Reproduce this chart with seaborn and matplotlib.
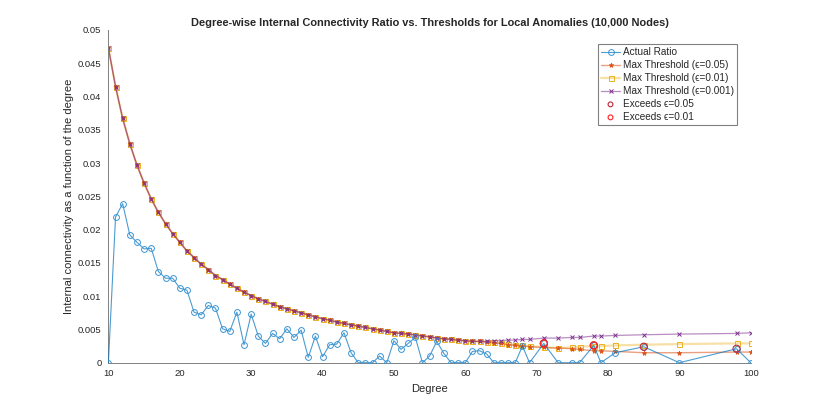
import matplotlib
matplotlib.use('Agg')
import matplotlib.pyplot as plt
import seaborn as sns

# Degrees present in the data (gaps above 69)
degree = list(range(10, 70)) + [71, 73, 75, 76, 78, 79, 81, 85, 90, 98, 100]

# Actual internal connectivity ratio per degree
actual_ratio = [0, 0.0219, 0.0239, 0.0192, 0.0181, 0.0171, 0.0172, 0.0137, 0.0127, 0.0127,
                0.0112, 0.0109, 0.0076, 0.0072, 0.0086, 0.0082, 0.0051, 0.0047, 0.0076, 0.0027,
                0.0073, 0.0040, 0.0029, 0.0044, 0.0036, 0.0051, 0.0038, 0.0049, 0.0008, 0.0040,
                0.0009, 0.0027, 0.0028, 0.0045, 0.0015, 0, 0, 0, 0.0010, 0,
                0.0033, 0.0020, 0.0029, 0.0038, 0, 0.0010, 0.0032, 0.0014, 0, 0,
                0, 0.0017, 0.0018, 0.0013, 0, 0, 0, 0, 0.0025, 0,
                0.0029, 0, 0, 0, 0.0026, 0, 0.0015, 0.0024, 0, 0.0021, 0]

# Thresholds coincide for degrees 10..62
thr_shared = [0.0473, 0.0415, 0.0367, 0.0329, 0.0297, 0.0270, 0.0246, 0.0226, 0.0209, 0.0194,
              0.0181, 0.0168, 0.0158, 0.0148, 0.0140, 0.0131, 0.0125, 0.0118, 0.0112, 0.0106,
              0.0101, 0.0096, 0.0092, 0.0088, 0.0084, 0.0081, 0.0078, 0.0075, 0.0072, 0.0069,
              0.0066, 0.0064, 0.0061, 0.0059, 0.0057, 0.0055, 0.0053, 0.0051, 0.0049, 0.0047,
              0.0045, 0.0044, 0.0043, 0.0042, 0.0040, 0.0039, 0.0037, 0.0036, 0.0035, 0.0034,
              0.0033, 0.0032, 0.0032]
# Degrees 63..100
thr_05_tail = [0.0031, 0.0030, 0.0029, 0.0027, 0.0026, 0.0025, 0.0024, 0.0023, 0.0022,
               0.0021, 0.0020, 0.0018, 0.0018, 0.0017, 0.0015, 0.0015, 0.0016, 0.0016]
thr_01_tail = [0.0031, 0.0031, 0.0029, 0.0028, 0.0027, 0.0026, 0.0025, 0.0023, 0.0022,
               0.0023, 0.0024, 0.0025, 0.0025, 0.0026, 0.0027, 0.0028, 0.0029, 0.0029]
thr_001_tail = [0.0032, 0.0033, 0.0033, 0.0034, 0.0034, 0.0035, 0.0035, 0.0037, 0.0037,
                0.0038, 0.0038, 0.0040, 0.0040, 0.0041, 0.0042, 0.0043, 0.0044, 0.0045]
thr_05 = thr_shared + thr_05_tail
thr_01 = thr_shared + thr_01_tail
thr_001 = thr_shared + thr_001_tail

# Points exceeding the thresholds
exc05_deg = [71, 78, 85, 98]
exc05_val = [0.0029, 0.0026, 0.0024, 0.0021]
exc01_deg = [71, 78]
exc01_val = [0.0029, 0.0026]

x_ticks = [10, 20, 30, 40, 50, 60, 70, 80, 90, 100]
y_ticks = [0, 0.005, 0.01, 0.015, 0.02, 0.025, 0.03, 0.035, 0.04, 0.045, 0.05]
y_tick_labels = ['0', '0.005', '0.01', '0.015', '0.02', '0.025', '0.03', '0.035', '0.04', '0.045', '0.05']

sns.set_style('white')
plt.rcParams['font.family'] = ['Liberation Sans', 'DejaVu Sans']

fig = plt.figure(figsize=(8.3, 4.08), dpi=100)
ax = fig.add_axes([0.1306, 0.111, 0.774, 0.8155])

sns.lineplot(x=degree, y=actual_ratio, ax=ax, color=(0.0, 0.447, 0.741, 0.7), lw=0.8,
             marker='o', markersize=4.2, mfc='none', mec='#3a95d4', mew=0.7,
             label='Actual Ratio', zorder=2.6)
sns.lineplot(x=degree, y=thr_05, ax=ax, color=(0.851, 0.325, 0.098, 0.55), lw=1.0,
             marker='*', markersize=3.5, mfc='#D95319', mec='#D95319', mew=0.5,
             label='Max Threshold (ϵ=0.05)', zorder=2.2)
sns.lineplot(x=degree, y=thr_01, ax=ax, color=(0.929, 0.694, 0.125, 0.4), lw=1.6,
             marker='s', markersize=3.6, mfc='none', mec='#EDB120', mew=0.7,
             label='Max Threshold (ϵ=0.01)', zorder=2.0)
sns.lineplot(x=degree, y=thr_001, ax=ax, color=(0.494, 0.184, 0.557, 0.55), lw=0.9,
             marker='x', markersize=3.0, mec='#7E2F8E', mew=0.7,
             label='Max Threshold (ϵ=0.001)', zorder=2.4)
sns.scatterplot(x=exc05_deg, y=exc05_val, ax=ax, marker='o', s=26, facecolors='none',
                edgecolor='#C0243A', linewidth=0.8, label='Exceeds ϵ=0.05', zorder=5)
sns.scatterplot(x=exc01_deg, y=exc01_val, ax=ax, marker='o', s=26, facecolors='none',
                edgecolor='#FF2020', linewidth=0.8, label='Exceeds ϵ=0.01', zorder=6)

ax.set_xlim(10, 100)
ax.set_ylim(0, 0.05)
ax.set_xticks(x_ticks)
ax.set_yticks(y_ticks)
ax.set_yticklabels(y_tick_labels)
ax.tick_params(direction='in', length=3, width=0.6, color='#808080', labelsize=6.8,
               labelcolor='#262626')
ax.tick_params(axis='x', pad=4.5)
ax.tick_params(axis='y', pad=5)
for side in ['top', 'right']:
    ax.spines[side].set_visible(False)
for side in ['left', 'bottom']:
    ax.spines[side].set_color('#808080')
    ax.spines[side].set_linewidth(0.7)

ax.set_xlabel('Degree', fontsize=8, color='#262626', labelpad=4)
ax.set_ylabel('Internal connectivity as a function of the degree', fontsize=8, color='#262626', labelpad=3)
ax.set_title('Degree-wise Internal Connectivity Ratio vs. Thresholds for Local Anomalies (10,000 Nodes)',
             fontsize=7.9, fontweight='bold', pad=3)

leg = ax.legend(loc='upper right', bbox_to_anchor=(737 / 830, 1 - 44 / 408),
                bbox_transform=fig.transFigure, borderaxespad=0, fontsize=7.2,
                frameon=True, fancybox=False, framealpha=1, edgecolor='#808080',
                handlelength=1.9, handletextpad=0.3, labelspacing=0.3, borderpad=0.3)
leg.get_frame().set_linewidth(0.8)
for h in leg.legend_handles[4:]:
    h.set_sizes([12])

fig.savefig('out.png', dpi=100)
